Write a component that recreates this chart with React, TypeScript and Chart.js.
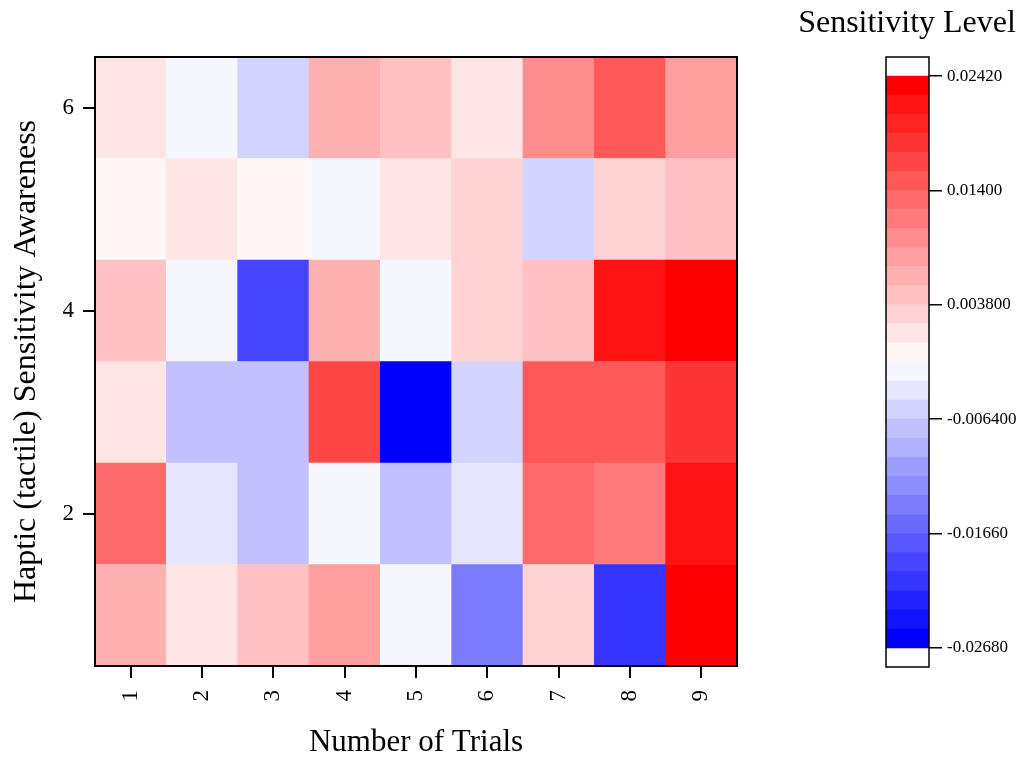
import React, { useEffect, useRef } from 'react';
import { Chart, registerables } from 'chart.js';

Chart.register(...registerables);

// ---------- data ----------
const trials = ['1', '2', '3', '4', '5', '6', '7', '8', '9'];
const awarenessRows = [1, 2, 3, 4, 5, 6];

const row1 = [0.0063, 0.0012, 0.0046, 0.008, -0.0022, -0.0141, 0.0029, -0.0209, 0.0233];
const row2 = [0.0131, -0.0039, -0.0073, -0.0022, -0.0073, -0.0039, 0.0131, 0.0114, 0.0216];
const row3 = [0.0012, -0.0073, -0.0073, 0.0165, -0.026, -0.0056, 0.0148, 0.0148, 0.0182];
const row4 = [0.0046, -0.0022, -0.0192, 0.0063, -0.0022, 0.0029, 0.0046, 0.0216, 0.0233];
const row5 = [-0.0005, 0.0012, -0.0005, -0.0022, 0.0012, 0.0029, -0.0056, 0.0029, 0.0046];
const row6 = [0.0012, -0.0022, -0.0056, 0.0063, 0.0046, 0.0012, 0.0097, 0.0148, 0.008];
const rows = [row1, row2, row3, row4, row5, row6];

const yTickValues = [2, 4, 6];

const colorbarTickValues = [-0.0268, -0.0166, -0.0064, 0.0038, 0.014, 0.0242];
const colorbarTickLabels = ['-0.02680', '-0.01660', '-0.006400', '0.003800', '0.01400', '0.02420'];
const levelMin = -0.0268;
const levelMax = 0.0242;
const levelCount = 30;

const FONT = "'Liberation Serif', 'Times New Roman', serif";

// ---------- colour mapping (discrete blue-white-red) ----------
const levelStep = (levelMax - levelMin) / levelCount;
function levelIndex(v: number): number {
  const k = Math.floor((v - levelMin) / levelStep + 1e-9);
  return Math.max(0, Math.min(levelCount - 1, k));
}
function levelColor(k: number): string {
  const t = k / (levelCount - 1);
  if (t < 0.5) {
    const c = Math.round(2 * t * 255);
    return `rgb(${c},${c},255)`;
  }
  const c = Math.round((2 - 2 * t) * 255);
  return `rgb(255,${c},${c})`;
}
const colorFor = (v: number) => levelColor(levelIndex(v));

const framePlugin = (lineWidth: number) => ({
  id: 'frame',
  afterDatasetsDraw(chart: any) {
    const { ctx, chartArea } = chart;
    ctx.save();
    ctx.strokeStyle = '#000';
    ctx.lineWidth = lineWidth;
    ctx.strokeRect(chartArea.left, chartArea.top, chartArea.right - chartArea.left, chartArea.bottom - chartArea.top);
    ctx.restore();
  },
});

export default function App() {
  const mainRef = useRef<HTMLCanvasElement | null>(null);
  const barRef = useRef<HTMLCanvasElement | null>(null);

  useEffect(() => {
    Chart.defaults.color = '#000';
    const mainChart = new Chart(mainRef.current as HTMLCanvasElement, {
      type: 'bar',
      data: {
        labels: trials,
        datasets: rows.map((vals, i) => ({
          label: `Row ${awarenessRows[i]}`,
          data: trials.map(() => [awarenessRows[i] - 0.5, awarenessRows[i] + 0.5]),
          backgroundColor: vals.map(colorFor),
          borderWidth: 0,
          barPercentage: 1,
          categoryPercentage: 1,
          grouped: false,
        })) as any,
      },
      options: {
        animation: false,
        responsive: false,
        layout: { padding: { top: 57, right: 43, left: 0, bottom: 0 } },
        plugins: { legend: { display: false }, tooltip: { enabled: false } },
        scales: {
          x: {
            type: 'category',
            border: { display: false },
            grid: { display: true, offset: false, drawOnChartArea: false, drawTicks: true, tickLength: 12, color: '#000', lineWidth: 2 },
            ticks: { font: { family: FONT, size: 23 }, color: '#000', minRotation: 90, maxRotation: 90, padding: 12 },
            title: { display: true, text: 'Number of Trials', font: { family: FONT, size: 31, lineHeight: 1 }, color: '#000', padding: 0 },
            afterFit: (scale: any) => { scale.height = 92; },
          },
          y: {
            type: 'linear',
            min: 0.5,
            max: 6.5,
            border: { display: false },
            grid: { display: true, drawOnChartArea: false, drawTicks: true, tickLength: 12, color: '#000', lineWidth: 2 },
            ticks: { font: { family: FONT, size: 23 }, color: '#000', padding: 9 },
            afterBuildTicks: (scale: any) => { scale.ticks = yTickValues.map((v) => ({ value: v })); },
            title: { display: true, text: 'Haptic (tactile) Sensitivity Awareness', font: { family: FONT, size: 32, lineHeight: 1 }, color: '#000', padding: { top: 11, bottom: 0 } },
            afterFit: (scale: any) => { scale.width = 95; },
          },
        },
      },
      plugins: [framePlugin(2)],
    } as any);

    const levelIdx = Array.from({ length: levelCount }, (_, k) => k);
    const barDatasets: any[] = levelIdx.map((k) => ({
      label: `L${k}`,
      data: [[levelMin + k * levelStep, levelMin + (k + 1) * levelStep]],
      backgroundColor: levelColor(k),
      borderWidth: 0,
      barPercentage: 1,
      categoryPercentage: 1,
      grouped: false,
    }));
    barDatasets.push({
      label: 'below', data: [[levelMin - levelStep, levelMin]], backgroundColor: '#fff', borderWidth: 0,
      barPercentage: 1, categoryPercentage: 1, grouped: false,
    });
    barDatasets.push({
      label: 'above', data: [[levelMax, levelMax + levelStep]], backgroundColor: '#fff', borderWidth: 0,
      barPercentage: 1, categoryPercentage: 1, grouped: false,
    });

    const barChart = new Chart(barRef.current as HTMLCanvasElement, {
      type: 'bar',
      data: { labels: [''], datasets: barDatasets },
      options: {
        animation: false,
        responsive: false,
        layout: { padding: { top: 0, left: 0, right: 0, bottom: 91 } },
        plugins: {
          legend: { display: false },
          tooltip: { enabled: false },
          title: { display: true, text: 'Sensitivity Level', font: { family: FONT, size: 32, lineHeight: 1, weight: 'normal' }, color: '#000', padding: { top: 8, bottom: 17 } },
        },
        scales: {
          x: { display: false },
          y: {
            type: 'linear',
            position: 'right',
            min: levelMin - levelStep,
            max: levelMax + levelStep,
            border: { display: false },
            grid: { display: true, drawOnChartArea: false, drawTicks: true, tickLength: 13, color: '#000', lineWidth: 1.5 },
            afterBuildTicks: (scale: any) => { scale.ticks = colorbarTickValues.map((v) => ({ value: v })); },
            ticks: {
              font: { family: FONT, size: 17 },
              color: '#000',
              padding: 5,
              callback: (_v: any, i: number) => colorbarTickLabels[i],
            },
            afterFit: (scale: any) => { scale.width = 88; },
          },
          spacer: {
            type: 'linear',
            position: 'left',
            display: true,
            border: { display: false },
            grid: { display: false, drawTicks: false },
            ticks: { display: false },
            afterFit: (scale: any) => { scale.width = 89; },
          },
        },
      },
      plugins: [framePlugin(1.5)],
    } as any);

    return () => {
      mainChart.destroy();
      barChart.destroy();
    };
  }, []);

  return (
    <div style={{ position: 'fixed', left: 0, top: 0, width: 1017, height: 758, background: '#fff', overflow: 'hidden' }}>
      <canvas ref={mainRef} width={780} height={758} style={{ position: 'absolute', left: 0, top: 0, width: 780, height: 758 }} />
      <canvas ref={barRef} width={220} height={758} style={{ position: 'absolute', left: 797, top: 0, width: 220, height: 758 }} />
    </div>
  );
}
